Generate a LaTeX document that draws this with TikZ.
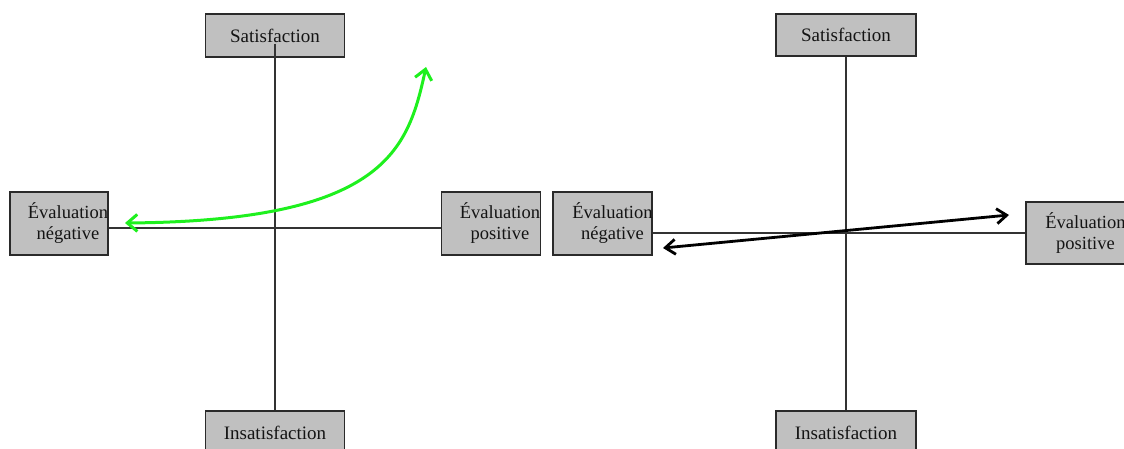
\documentclass[tikz,border=0pt]{standalone}
\usepackage{fontspec}
\setmainfont{Liberation Serif}
\usetikzlibrary{arrows.meta}
\definecolor{boxgray}{HTML}{C0C0C0}
\definecolor{edgegray}{HTML}{2A2A2A}
\definecolor{axisgray}{HTML}{333333}
\definecolor{brightgreen}{HTML}{1EF01E}
\begin{document}
\begin{tikzpicture}[x=1pt,y=-1pt,
  box/.style={draw=edgegray, line width=1.3pt, fill=boxgray, inner sep=0pt,
              font=\fontsize{19}{21}\selectfont, text=black!92},
  wide/.style={minimum width=139pt, minimum height=43pt},
  evalbox/.style={minimum width=98pt, minimum height=63pt},
  lbl/.style={font=\fontsize{18.5}{21}\selectfont, text=black!92, align=center, inner sep=0pt},
  axisA/.style={draw=axisgray, line width=1.4pt},
  axisB/.style={draw=axisgray, line width=1.1pt},
  greenarrow/.style={draw=brightgreen, line width=3pt, {Straight Barb[length=10pt,width=17pt]}-{Straight Barb[length=10pt,width=17pt]}},
  blackarrow/.style={draw=black, line width=2.8pt, {Straight Barb[length=10pt,width=15pt]}-{Straight Barb[length=10pt,width=15pt]}}
]
\useasboundingbox (0,0) rectangle (1124,448);

% ---------- left diagram ----------
\node[box, wide] (S1) at (275,35.5) {Satisfaction};
\node[box, wide] (I1) at (275,432.5) {Insatisfaction};
\node[box, evalbox] (N1) at (59,223.5) {};
\node[lbl] (tN1) at ([xshift=9pt]N1.center) {Évaluation\\négative};
\node[box, evalbox, minimum width=99pt] (P1) at (491,223.5) {};
\node[lbl] (tP1) at ([xshift=9pt]P1.center) {Évaluation\\positive};
\coordinate (h1) at (0,228);
\draw[axisA] ([yshift=14pt]S1.south) -- (I1.north);
\draw[axisA] (N1.east |- h1) -- (P1.west |- h1);
\coordinate (gA) at (125,223);
\coordinate (gB) at (426,67);
\draw[greenarrow] (gA) .. controls (385,221) and (408,150) .. (gB);

% ---------- right diagram ----------
\node[box, wide, minimum width=140pt, minimum height=42pt] (S2) at (846,35) {Satisfaction};
\node[box, wide, minimum width=140pt] (I2) at (846,432.5) {Insatisfaction};
\node[box, evalbox, minimum width=99pt] (N2) at (602.5,223.5) {};
\node[lbl] (tN2) at ([xshift=10pt]N2.center) {Évaluation\\négative};
\node[box, evalbox, minimum width=99pt, minimum height=62pt] (P2) at (1075.5,233) {};
\node[lbl] (tP2) at ([xshift=10pt]P2.center) {Évaluation\\positive};
\draw[axisB] (S2.south) -- (I2.north);
\draw[axisB] (N2.east |- P2.west) -- (P2.west);
\coordinate (bA) at (663,248);
\coordinate (bB) at (1009,215);
\draw[blackarrow] (bA) -- (bB);
\end{tikzpicture}
\end{document}
